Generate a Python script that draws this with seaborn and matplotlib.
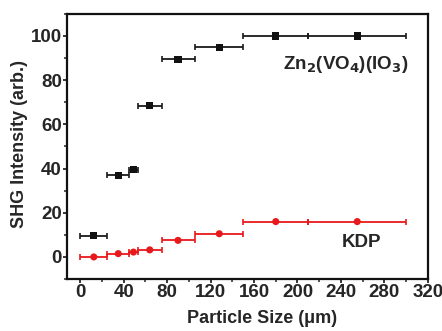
import numpy as np
import pandas as pd
import matplotlib
matplotlib.use("Agg")
import matplotlib.pyplot as plt
import seaborn as sns
from matplotlib.ticker import MultipleLocator

# Data
bin_low = [0, 25, 45, 53, 75, 106, 150, 210]
bin_high = [25, 45, 53, 75, 106, 150, 210, 300]
size_mid = [12.5, 35, 49, 64, 90, 128, 180, 255]
zn_vals = [9.5, 37, 39.5, 68.5, 89.5, 94.8, 100, 100]
kdp_vals = [0, 1.5, 2.2, 3.2, 7.5, 10.5, 16, 16]

sns.set_theme(style="ticks")
plt.rcParams['font.family'] = ['Liberation Sans', 'DejaVu Sans']
plt.rcParams['font.weight'] = 'bold'

df = pd.DataFrame({
    "size": size_mid * 2,
    "val": zn_vals + kdp_vals,
    "sample": ["Zn"] * 8 + ["KDP"] * 8,
})

fig = plt.figure(figsize=(4.42, 3.31), dpi=100)
ax = fig.add_axes([0.152, 0.157, 0.816, 0.801])

mid = np.array(size_mid)
lo = mid - np.array(bin_low)
hi = np.array(bin_high) - mid

ax.errorbar(mid, zn_vals, xerr=[lo, hi], fmt='none', ecolor='#1a1a1a',
            elinewidth=1.3, capsize=2.5, capthick=1.2, zorder=2)
ax.errorbar(mid, kdp_vals, xerr=[lo, hi], fmt='none', ecolor='#e8191c',
            elinewidth=1.3, capsize=2.5, capthick=1.2, zorder=2)

sns.scatterplot(data=df, x="size", y="val", hue="sample", style="sample",
                palette={"Zn": "#111111", "KDP": "#e8191c"},
                markers={"Zn": "s", "KDP": "o"}, s=26, edgecolor='none',
                legend=False, ax=ax, zorder=3)

ax.set_xlim(-12, 320)
ax.set_ylim(-10, 110)
ax.xaxis.set_major_locator(MultipleLocator(40))
ax.xaxis.set_minor_locator(MultipleLocator(20))
ax.yaxis.set_major_locator(MultipleLocator(20))
ax.yaxis.set_minor_locator(MultipleLocator(10))
ax.tick_params(which='major', direction='out', length=3, width=1.3, labelsize=13.5, pad=0.8)
ax.tick_params(which='minor', direction='out', length=2, width=1.1)
for lab in ax.get_xticklabels() + ax.get_yticklabels():
    lab.set_fontweight('bold')
for sp in ax.spines.values():
    sp.set_linewidth(1.6)
    sp.set_color('#111111')

ax.set_xlabel("Particle Size (\u03bcm)", fontsize=13, fontweight='bold')
ax.set_ylabel("SHG Intensity (arb.)", fontsize=13, fontweight='bold')
ax.xaxis.set_label_coords(0.541, -0.118)
ax.yaxis.set_label_coords(-0.108, 0.51)

ax.text(244, 87, "Zn$_\\mathbf{2}$(VO$_\\mathbf{4}$)(IO$_\\mathbf{3}$)", fontsize=13.5,
        fontweight='bold', ha='center', va='center')
ax.text(259, 6.5, "KDP", fontsize=13.5, fontweight='bold', ha='center', va='center')

fig.savefig("out.png", dpi=100)
